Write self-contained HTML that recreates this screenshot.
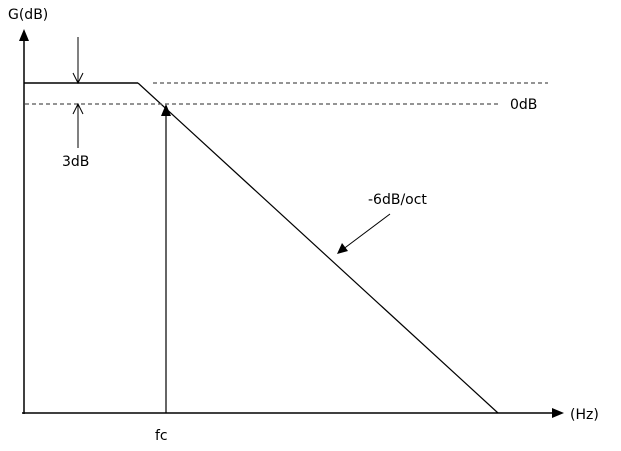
<!DOCTYPE html>
<html><head><style>
html,body{margin:0;padding:0;background:#fff;}
svg{display:block;}
text{font-family:"DejaVu Sans","Liberation Sans",sans-serif;font-size:14px;fill:#000;}
</style></head><body>
<svg width="621" height="451" viewBox="0 0 621 451" xmlns="http://www.w3.org/2000/svg">
<g stroke="#000" stroke-width="1.5" fill="none">
<line x1="24" y1="414" x2="24" y2="40"/>
<line x1="22" y1="413" x2="552" y2="413"/>
<line x1="24" y1="83" x2="138" y2="83"/>
</g>
<line x1="138" y1="83" x2="498" y2="413" stroke="#000" stroke-width="1.2"/>
<g stroke="#555" stroke-width="1.2" stroke-dasharray="4,3">
<line x1="153" y1="83" x2="548" y2="83"/>
<line x1="25" y1="104" x2="500" y2="104"/>
</g>
<polygon points="24,29 19,41 29,41" fill="#000"/>
<polygon points="564,413 552,408 552,418" fill="#000"/>
<line x1="166" y1="413" x2="166" y2="114" stroke="#000" stroke-width="1.2"/>
<polygon points="166,104 161,116 171,116" fill="#000"/>
<g stroke="#000" stroke-width="1" fill="none">
<line x1="78" y1="37" x2="78" y2="83"/>
<polyline points="73,73 78,83 83,73"/>
<line x1="78" y1="104" x2="78" y2="148"/>
<polyline points="73,114 78,104 83,114"/>
<line x1="390" y1="214" x2="342" y2="250"/>
</g>
<polygon points="337,254 342,243 348,251" fill="#000"/>
<text x="8" y="19">G(dB)</text>
<text x="62" y="166">3dB</text>
<text x="510" y="109">0dB</text>
<text x="368" y="204">-6dB/oct</text>
<text x="155" y="440">fc</text>
<text x="570" y="419">(Hz)</text>
</svg>
</body></html>
